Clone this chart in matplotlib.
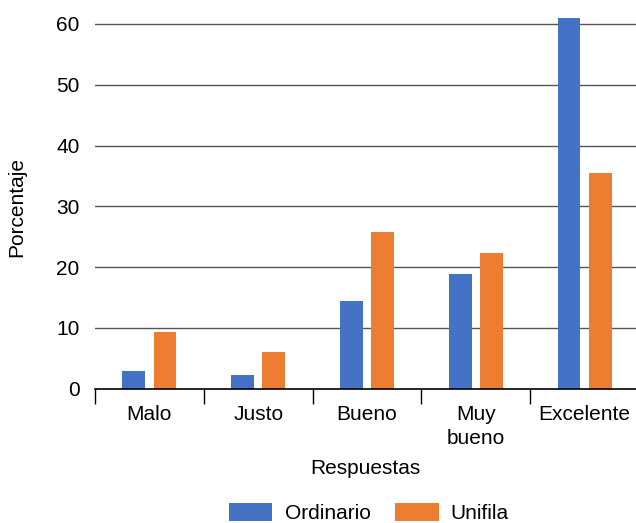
import numpy as np
import matplotlib.pyplot as plt

categorias = ['Malo', 'Justo', 'Bueno', 'Muy\nbueno', 'Excelente']
ordinario = [2.9, 2.3, 14.5, 18.9, 61.0]
unifila = [9.3, 6.1, 25.8, 22.3, 35.5]
yticks = [0, 10, 20, 30, 40, 50, 60]

plt.rcParams['font.family'] = ['Liberation Sans', 'DejaVu Sans']

fig = plt.figure(figsize=(6.36, 5.23), dpi=100)
ax = fig.add_axes([95 / 636, 134.3 / 523, 544 / 636, 376.9 / 523])

x = np.arange(len(categorias))
w = 0.21
off = 0.143
ax.bar(x - off, ordinario, w, color='#4472C4', label='Ordinario', zorder=3)
ax.bar(x + off, unifila, w, color='#ED7D31', label='Unifila', zorder=3)

ax.set_xlim(-0.5, len(categorias) - 0.5)
ax.set_ylim(0, 62)
ax.set_yticks(yticks)
ax.set_xticks(x)
ax.set_xticklabels(categorias, fontsize=15, linespacing=1.32)
ax.set_xticks(np.arange(len(categorias)) - 0.5, minor=True)
ax.tick_params(axis='x', which='major', length=0, pad=12)
ax.tick_params(axis='x', which='minor', length=10.5, width=1, color='black', direction='out')
ax.tick_params(axis='y', length=0, pad=11, labelsize=15)

for v in yticks[1:]:
    ax.axhline(v, color='#555555', lw=1.0, zorder=1)

for s in ['top', 'right', 'left']:
    ax.spines[s].set_visible(False)
ax.spines['bottom'].set_color('black')
ax.spines['bottom'].set_linewidth(1.2)
ax.spines['bottom'].set_zorder(4)

fig.text(17 / 636, 1 - 207 / 523, 'Porcentaje', rotation=90, ha='center', va='center', fontsize=15)
fig.text(365 / 636, 1 - 468 / 523, 'Respuestas', ha='center', va='center', fontsize=15)

fig.legend(loc='center', bbox_to_anchor=(369 / 636, 1 - 513 / 523), ncol=2, frameon=False,
           fontsize=15, handlelength=2.07, handleheight=1.0, handletextpad=0.58,
           columnspacing=1.2, borderaxespad=0, borderpad=0)

fig.savefig('out.png', dpi=100)
